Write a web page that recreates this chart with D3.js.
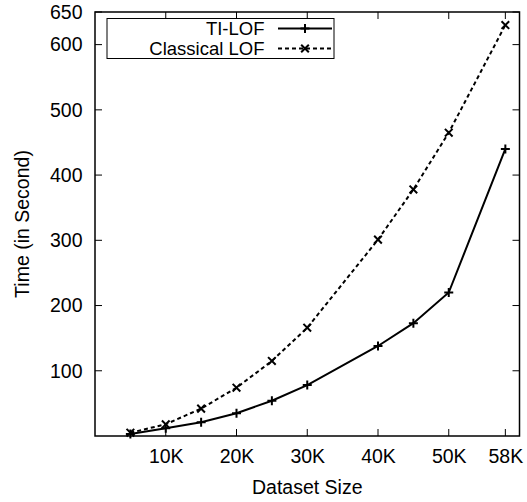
<!DOCTYPE html>
<html><head><meta charset="utf-8">
<script src="https://cdn.jsdelivr.net/npm/d3@7"></script>
<style>body{margin:0;background:#fff}svg{display:block}text{font-family:"Liberation Sans",Arial,sans-serif;fill:#000}</style>
</head><body>
<svg id="c" width="527" height="502"></svg>
<script>
const sizes = [5000, 10000, 15000, 20000, 25000, 30000, 40000, 45000, 50000, 58000];
const tiLOF = [3, 12, 21, 35, 54, 78, 138, 173, 220, 440];
const classicalLOF = [5, 18, 42, 74, 115, 166, 301, 378, 465, 630];
const xTicks = [10000, 20000, 30000, 40000, 50000, 58000];
const xTickLabels = ["10K", "20K", "30K", "40K", "50K", "58K"];
const yTicks = [100, 200, 300, 400, 500, 600, 650];
const seriesNames = ["TI-LOF", "Classical LOF"];

const FS = 19.5;
const svg = d3.select("#c");
const L = 95, R = 519.5, T = 12, B = 436;
const x = d3.scaleLinear().domain([0, 60000]).range([L, R]);
const y = d3.scaleLinear().domain([0, 650]).range([B, T]);

// ticks inward (gnuplot style), mirrored
const tk = 7;
const g = svg.append("g");
xTicks.forEach(v => {
  g.append("line").attr("x1", x(v)).attr("x2", x(v)).attr("y1", B).attr("y2", B - tk).attr("stroke", "#000").attr("stroke-width", 1);
  g.append("line").attr("x1", x(v)).attr("x2", x(v)).attr("y1", T).attr("y2", T + tk).attr("stroke", "#000").attr("stroke-width", 1);
});
yTicks.forEach(v => {
  g.append("line").attr("x1", L).attr("x2", L + tk).attr("y1", y(v)).attr("y2", y(v)).attr("stroke", "#000").attr("stroke-width", 1);
  g.append("line").attr("x1", R).attr("x2", R - tk).attr("y1", y(v)).attr("y2", y(v)).attr("stroke", "#000").attr("stroke-width", 1);
});
// axes via d3 for labels
const xAxis = d3.axisBottom(x).tickValues(xTicks).tickFormat((d, i) => xTickLabels[i]).tickSize(0).tickPadding(13.5);
const ax = svg.append("g").attr("transform", `translate(0,${B})`).call(xAxis);
ax.select(".domain").remove();
ax.selectAll("text").attr("font-size", FS).attr("font-family", "Liberation Sans, Arial, sans-serif").attr("fill", "#000");
const yAxis = d3.axisLeft(y).tickValues(yTicks).tickFormat(d3.format("d")).tickSize(0).tickPadding(12.5);
const ay = svg.append("g").attr("transform", `translate(${L},0)`).call(yAxis);
ay.select(".domain").remove();
ay.selectAll("text").attr("font-size", FS).attr("font-family", "Liberation Sans, Arial, sans-serif").attr("fill", "#000");

// frame
svg.append("rect").attr("x", L).attr("y", T).attr("width", R - L).attr("height", B - T)
  .attr("fill", "none").attr("stroke", "#000").attr("stroke-width", 1.5);

// axis titles
svg.append("text").attr("x", (L + R) / 2).attr("y", 494).attr("text-anchor", "middle").attr("font-size", FS).text("Dataset Size");
svg.append("text").attr("transform", `translate(29,${(T + B) / 2}) rotate(-90)`).attr("text-anchor", "middle").attr("font-size", FS).text("Time (in Second)");

const line = d3.line().x((d, i) => x(sizes[i])).y(d => y(d));
svg.append("path").datum(tiLOF).attr("d", line).attr("fill", "none").attr("stroke", "#000").attr("stroke-width", 2);
svg.append("path").datum(classicalLOF).attr("d", line).attr("fill", "none").attr("stroke", "#000").attr("stroke-width", 2).attr("stroke-dasharray", "4,3");

const ms = 4.5;
function plus(sel, cx, cy) {
  sel.append("path").attr("d", `M${cx - ms},${cy}H${cx + ms}M${cx},${cy - ms}V${cy + ms}`).attr("stroke", "#000").attr("stroke-width", 2);
}
function cross(sel, cx, cy) {
  const s = ms * 0.85;
  sel.append("path").attr("d", `M${cx - s},${cy - s}L${cx + s},${cy + s}M${cx - s},${cy + s}L${cx + s},${cy - s}`).attr("stroke", "#000").attr("stroke-width", 2);
}
tiLOF.forEach((v, i) => plus(svg, x(sizes[i]), y(v)));
classicalLOF.forEach((v, i) => cross(svg, x(sizes[i]), y(v)));

// legend
const LFS = 18.5;
svg.append("rect").attr("x", 107).attr("y", 18.5).attr("width", 227).attr("height", 40).attr("fill", "#fff").attr("stroke", "#000").attr("stroke-width", 1);
const ly = [28.5, 48.5];
svg.append("text").attr("x", 264.5).attr("y", ly[0]).attr("dy", "0.35em").attr("text-anchor", "end").attr("font-size", LFS).text(seriesNames[0]);
svg.append("text").attr("x", 264.5).attr("y", ly[1]).attr("dy", "0.35em").attr("text-anchor", "end").attr("font-size", LFS).text(seriesNames[1]);
svg.append("line").attr("x1", 278).attr("x2", 332).attr("y1", ly[0]).attr("y2", ly[0]).attr("stroke", "#000").attr("stroke-width", 2);
svg.append("line").attr("x1", 278).attr("x2", 332).attr("y1", ly[1]).attr("y2", ly[1]).attr("stroke", "#000").attr("stroke-width", 2).attr("stroke-dasharray", "4,3");
plus(svg, 305, ly[0]);
cross(svg, 305, ly[1]);
</script>
</body></html>
